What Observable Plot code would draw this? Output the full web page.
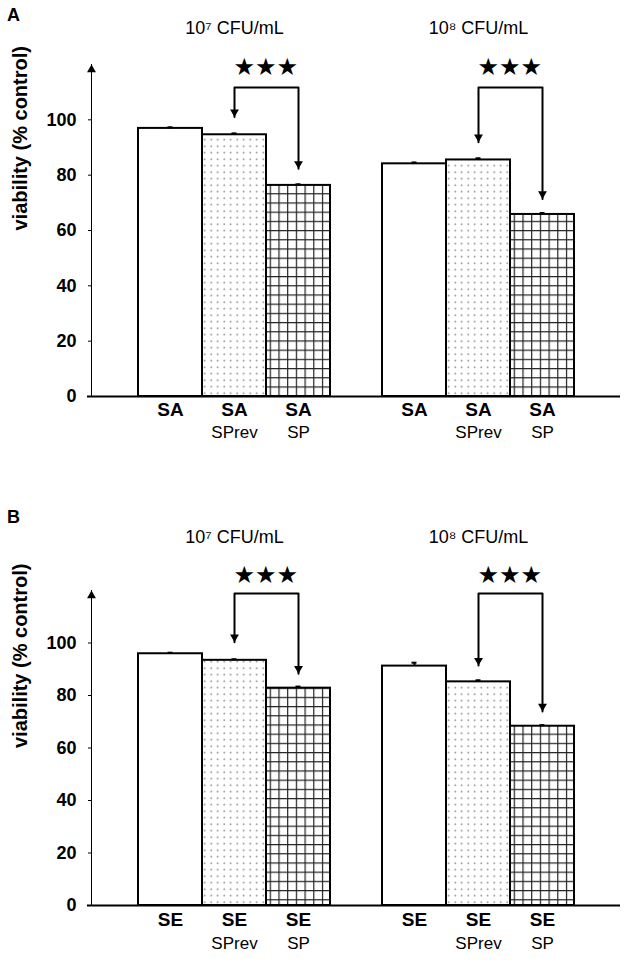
<!DOCTYPE html>
<html>
<head>
<meta charset="utf-8">
<script src="https://cdn.jsdelivr.net/npm/d3@7"></script>
<script src="https://cdn.jsdelivr.net/npm/@observablehq/plot@0.6"></script>
<style>
  html, body { margin: 0; padding: 0; background: #fff; }
  #fig { position: relative; width: 630px; height: 961px; font-family: Arial, "Liberation Sans", sans-serif; }
  .panel { position: absolute; left: 0; width: 630px; }
  .tag { position: absolute; left: 7px; font-weight: bold; font-size: 18px; line-height: 20px; z-index: 2; }
</style>
</head>
<body>
<div id="fig">
  <div class="panel" id="panelA" style="top:0px"></div>
  <div class="panel" id="panelB" style="top:522px"></div>
  <div class="tag" style="top:5px">A</div>
  <div class="tag" style="top:507px">B</div>
</div>
<script>
// ---------------- data ----------------
const concentrations = ["10⁷ CFU/mL", "10⁸ CFU/mL"];
const treatmentKeys = ["none", "SPrev", "SP"];
const treatmentLabels = ["", "SPrev", "SP"];
const significance = ["★★★", "★★★"];
const yTicks = [0, 20, 40, 60, 80, 100];

// Panel A: S. aureus (SA)
const strainA = "SA";
const viabilityA = [96.9, 94.6, 76.3, 84.1, 85.5, 65.8];
const errorA = [0.4, 0.5, 0.4, 0.5, 0.6, 0.5];
const bracketA = [111.7, 111.7];
const starsA = [118.9, 118.9];
const tipsA = [[101.0, 82.3], [91.9, 71.4]];

// Panel B: S. epidermidis (SE)
const strainB = "SE";
const viabilityB = [95.9, 93.4, 82.8, 91.2, 85.2, 68.3];
const errorB = [0.4, 0.4, 0.6, 1.3, 0.6, 0.4];
const bracketB = [118.9, 118.9];
const starsB = [125.7, 125.7];
const tipsB = [[100.3, 88.3], [91.4, 73.9]];

// ---------------- drawing ----------------
function addPatterns(svg, id) {
  const defs = d3.select(svg).insert("defs", ":first-child");
  const dots = defs.append("pattern").attr("id", "dots-" + id)
    .attr("patternUnits", "userSpaceOnUse").attr("width", 6.5).attr("height", 6.5);
  dots.append("rect").attr("width", 6.5).attr("height", 6.5).attr("fill", "#fff");
  dots.append("circle").attr("cx", 3.2).attr("cy", 3.2).attr("r", 0.8).attr("fill", "#777");
  const grid = defs.append("pattern").attr("id", "grid-" + id)
    .attr("patternUnits", "userSpaceOnUse").attr("width", 8.7).attr("height", 9.2);
  grid.append("rect").attr("width", 8.7).attr("height", 9.2).attr("fill", "#fff");
  grid.append("line").attr("x1", 0.6).attr("x2", 0.6).attr("y1", 0).attr("y2", 9.2).attr("stroke", "#222").attr("stroke-width", 1.2);
  grid.append("line").attr("y1", 0.6).attr("y2", 0.6).attr("x1", 0).attr("x2", 8.7).attr("stroke", "#222").attr("stroke-width", 1.2);
}

function drawPanel(container, cfg) {
  const rows = concentrations.flatMap((c, gi) => treatmentKeys.map((t, ti) => ({
    conc: c, t, v: cfg.values[gi * 3 + ti], e: cfg.errors[gi * 3 + ti],
    strain: cfg.strain, sub: treatmentLabels[ti]
  })));
  const bracketPts = concentrations.flatMap((c, gi) => [
    {conc: c, t: treatmentKeys[1], y: cfg.tips[gi][0]},
    {conc: c, t: treatmentKeys[1], y: cfg.bracket[gi]},
    {conc: c, t: treatmentKeys[2], y: cfg.bracket[gi]},
    {conc: c, t: treatmentKeys[2], y: cfg.tips[gi][1]}
  ]);
  const tipPts = concentrations.flatMap((c, gi) => [
    {conc: c, t: treatmentKeys[1], y: cfg.tips[gi][0]},
    {conc: c, t: treatmentKeys[2], y: cfg.tips[gi][1]}
  ]);
  const starRows = concentrations.map((c, gi) => ({conc: c, t: treatmentKeys[1], y: cfg.stars[gi], text: significance[gi]}));
  const titleRows = concentrations.map(c => ({conc: c, t: treatmentKeys[1], text: c}));
  const firstFacet = [{conc: concentrations[0], y: 120}];
  const lastFacet = [{conc: concentrations[1]}];
  const fills = {none: "white", SPrev: `url(#dots-${cfg.id})`, SP: `url(#grid-${cfg.id})`};
  const L = cfg.layout;

  const svg = Plot.plot({
    width: 630,
    height: L.height,
    marginLeft: 91,
    marginRight: 51,
    marginTop: L.marginTop,
    marginBottom: L.marginBottom,
    style: {fontFamily: "Arial, 'Liberation Sans', sans-serif", fontSize: "18px", fontWeight: "bold", color: "black", background: "transparent"},
    fx: {domain: concentrations, padding: 0, axis: null},
    x: {domain: treatmentKeys, paddingInner: 0, paddingOuter: 0.377, align: 0.898, axis: null},
    y: {domain: [0, 120], ticks: yTicks, tickSize: 3, tickPadding: 12, label: null, line: true},
    marks: [
      ...treatmentKeys.map(t => Plot.barY(rows.filter(r => r.t === t), {
        fx: "conc", x: "t", y: "v", fill: fills[t], stroke: "black", strokeWidth: 2
      })),
      Plot.ruleY(firstFacet, {fx: "conc", y: () => 0, stroke: "black", strokeWidth: 2, insetLeft: -4}),
      Plot.ruleY(lastFacet, {fx: "conc", y: () => 0, stroke: "black", strokeWidth: 2, insetRight: -41}),
      Plot.ruleX(rows, {fx: "conc", x: "t", y1: "v", y2: d => d.v + d.e, stroke: "black", strokeWidth: 2}),
      Plot.tickY(rows, {fx: "conc", x: "t", y: d => d.v + d.e, stroke: "black", strokeWidth: 2, insetLeft: 29.5, insetRight: 29.5}),
      Plot.line(bracketPts, {fx: "conc", x: "t", y: "y", z: "conc", stroke: "black", strokeWidth: 2}),
      Plot.dot(tipPts, {fx: "conc", x: "t", y: "y", symbol: "triangle", r: 3.3, rotate: 180, fill: "black", stroke: "none", dy: -5.1}),
      Plot.text(starRows, {fx: "conc", x: "t", y: "y", text: "text", textAnchor: "start", fontFamily: "DejaVu Sans", fontSize: 24, fontWeight: "normal", dx: -1}),
      Plot.text(titleRows, {fx: "conc", x: "t", text: "text", frameAnchor: "top", dy: L.titleDy, fontSize: 18, fontWeight: "normal", fontFamily: "'Liberation Sans', 'DejaVu Sans', sans-serif"}),
      Plot.text(rows, {fx: "conc", x: "t", text: "strain", frameAnchor: "bottom", dy: L.strainDy, fontSize: 19, fontWeight: "bold"}),
      Plot.text(rows, {fx: "conc", x: "t", text: "sub", frameAnchor: "bottom", dy: L.subDy, fontSize: 17, fontWeight: "normal"}),
      Plot.text(firstFacet, {fx: "conc", text: () => "viability (% control)", frameAnchor: "left", rotate: -90, dx: -71, fontSize: 20, fontWeight: "bold"}),
      Plot.dot(firstFacet, {fx: "conc", y: "y", frameAnchor: "left", symbol: "triangle", r: 3.3, fill: "black", stroke: "none", dy: 5.1})
    ]
  });
  addPatterns(svg, cfg.id);
  container.appendChild(svg);
}

drawPanel(document.getElementById("panelA"), {
  id: "A", strain: strainA, values: viabilityA, errors: errorA,
  bracket: bracketA, stars: starsA, tips: tipsA,
  layout: {height: 470, marginTop: 64, marginBottom: 74, titleDy: -43, strainDy: 19, subDy: 41}
});
drawPanel(document.getElementById("panelB"), {
  id: "B", strain: strainB, values: viabilityB, errors: errorB,
  bracket: bracketB, stars: starsB, tips: tipsB,
  layout: {height: 439, marginTop: 68, marginBottom: 56, titleDy: -60, strainDy: 20, subDy: 43}
});
</script>
</body>
</html>
